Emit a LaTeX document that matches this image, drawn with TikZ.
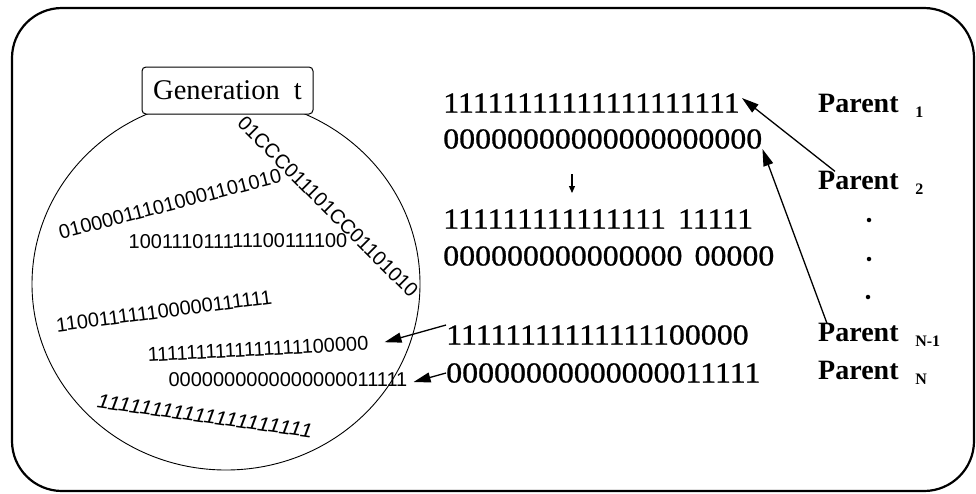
\documentclass[tikz,border=0pt]{standalone}
\usepackage{fontspec}
\setmainfont{Liberation Serif}
\setsansfont{Liberation Sans}
\newfontfamily\chromfont[FakeBold=0.8]{Liberation Serif}
\usetikzlibrary{shapes.geometric,arrows.meta}
% small lowered index after "Parent"
\newcommand\psub[1]{\hspace{0.6em}\raisebox{-0.16em}{\fontsize{16}{16}\selectfont #1}}
\begin{document}
\begin{tikzpicture}[x=1pt,y=-1pt,
  chrom/.style={font=\chromfont\fontsize{29}{29}\selectfont, inner sep=0pt, anchor=west, xscale=1.10},
  pop/.style={font=\sffamily\fontsize{20}{20}\selectfont, inner sep=0pt},
  plabel/.style={font=\fontsize{28}{28}\selectfont\bfseries, inner sep=0pt, anchor=west},
  link/.style={line width=1.3pt, -{Triangle[length=17pt,width=10pt]}},
  pdot/.style={circle, fill, inner sep=0pt, minimum size=4.5pt},
]
\useasboundingbox (0,0) rectangle (976,493);

% outer frame
\draw[line width=2.2pt, rounded corners=50pt] (12,8) rectangle (974,491);

% population of generation t
\node[ellipse, draw, line width=0.9pt, inner sep=0pt,
      minimum width=388pt, minimum height=372pt] (pool) at (226,284) {};
\node[draw, line width=1pt, rounded corners=4pt, fill=white,
      minimum width=171pt, minimum height=47pt, inner xsep=0pt,
      font=\fontsize{28.5}{28.5}\selectfont] (gen) at (227.5,90.5)
      {Generation\hspace{14pt}t\hspace{22pt}};

\node[pop, rotate=14.5] (t1) at (170,204) {010000111010001101010};
\node[pop, rotate=-45]  (t2) at (328,207) {01CCC011101CC01101010};
\node[pop, rotate=0.5]  (t3) at (238,241) {100111011111100111100};
\node[pop, rotate=7.5]  (t4) at (164,311) {110011111100000111111};
\node[pop, rotate=3]    (t5) at (258,349) {1111111111111111100000};
\node[pop]              (t6) at (288,380) {0000000000000000011111};
\node[pop, rotate=-8, xscale=1.12, font=\sffamily\itshape\fontsize{20}{20}\selectfont]
                        (t7) at (205,416) {11111111111111111111};

% crossover of two parents
\node[chrom] (r1) at (443,103) {11111111111111111111};
\node[chrom] (r2) at (443,139) {00000000000000000000};
\node[chrom] (r3) at (443,219) {111111111111111\hspace{11pt}11111};
\node[chrom] (r4) at (443,256) {000000000000000\hspace{11pt}00000};
\node[chrom] (r5) at (446,335) {11111111111111100000};
\node[chrom] (r6) at (446,373) {00000000000000011111};

\coordinate (dtop) at (572,174);
\coordinate (dbot) at (572,193);
\draw[line width=1.2pt, -{Triangle[length=7pt,width=6pt]}] (dtop) -- (dbot);

% parent labels
\node[plabel] (p1)  at (818,106) {Parent\psub{1}};
\node[plabel] (p2)  at (818,183) {Parent\psub{2}};
\node[pdot]   (d1)  at (869,220) {};
\node[pdot]   (d2)  at (869,259) {};
\node[pdot]   (d3)  at (868,297) {};
\node[plabel] (pn1) at (818,335) {Parent\psub{N-1}};
\node[plabel] (pn)  at (818,373) {Parent\psub{N}};

% selection and insertion arrows
\draw[link] ([xshift=17pt]p2.north west) -- ([xshift=2pt,yshift=5pt]r1.east);
\draw[link] ([xshift=9pt]pn1.north west) -- (r2.south east);
\draw[link] (r5.north west) -- ([xshift=16pt,yshift=1pt]t5.east);
\draw[link] (r6.west) -- ([xshift=6pt,yshift=-2pt]t6.east);
\end{tikzpicture}
\end{document}
